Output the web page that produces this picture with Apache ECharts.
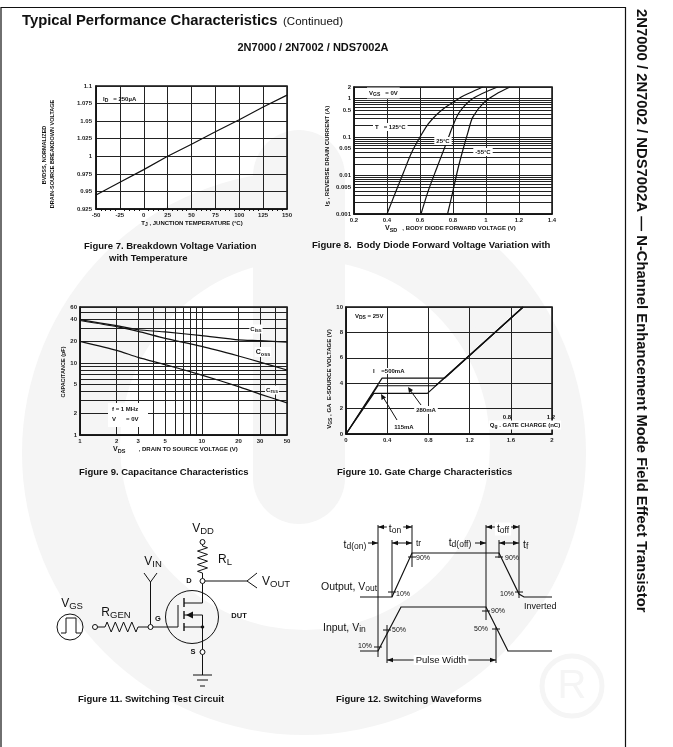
<!DOCTYPE html>
<html>
<head>
<meta charset="utf-8">
<title>Typical Performance Characteristics</title>
<script src="https://cdn.jsdelivr.net/npm/echarts@6/dist/echarts.min.js"></script>
<style>
  html, body { margin: 0; padding: 0; background: #fff; }
  #main { width: 673px; height: 747px; }
</style>
</head>
<body>
<div id="main"></div>
<script>
// figure 7 - breakdown voltage vs temperature
const fig7Temp = [-50, -25, 0, 25, 50, 75, 100, 125, 150]
const fig7Bvdss = [0.945, 0.963, 0.981, 1.0, 1.017, 1.035, 1.052, 1.07, 1.087]

// figure 8 - body diode forward voltage (volts, amps)
const fig8T125 = [[0.4, 0.001], [0.45, 0.0035], [0.5, 0.012], [0.55, 0.04], [0.6, 0.1], [0.65, 0.22], [0.7, 0.38], [0.75, 0.58], [0.8, 0.8], [0.85, 1.1], [0.9, 1.4], [0.98, 2]]
const fig8T25 = [[0.606, 0.001], [0.65, 0.004], [0.7, 0.015], [0.76, 0.07], [0.8, 0.2], [0.84, 0.45], [0.92, 1], [1.07, 2]]
const fig8Tm55 = [[0.767, 0.001], [0.8, 0.004], [0.83, 0.015], [0.86, 0.046], [0.89, 0.13], [0.92, 0.33], [0.99, 0.81], [1.06, 1.3], [1.145, 2]]
const fig8Grid = [0.001, 0.002, 0.003, 0.004, 0.005, 0.006, 0.007, 0.008, 0.009, 0.01, 0.02, 0.03, 0.04, 0.05, 0.06, 0.07, 0.08, 0.09, 0.1, 0.2, 0.3, 0.4, 0.5, 0.6, 0.7, 0.8, 0.9, 1, 2]
const fig8Labels = [0.001, 0.005, 0.01, 0.05, 0.1, 0.5, 1, 2]

// figure 9 - capacitance vs drain voltage
const fig9Vds = [1, 2, 3, 5, 10, 20, 30, 50]
const fig9Ciss = [40, 33, 29, 27, 24, 21, 20.5, 19.5]
const fig9Coss = [39, 32, 27.5, 22, 17, 12.5, 10.3, 8]
const fig9Crss = [20, 15, 12, 9.5, 6.8, 4.7, 3.7, 2.8]
const fig9GridX = [1, 2, 3, 4, 5, 6, 7, 8, 9, 10, 20, 30, 40, 50]
const fig9LabelsX = [1, 2, 3, 5, 10, 20, 30, 50]
const fig9GridY = [1, 2, 3, 4, 5, 6, 7, 8, 9, 10, 20, 30, 40, 50, 60]
const fig9LabelsY = [1, 2, 5, 10, 20, 40, 60]

// figure 10 - gate charge
const fig10I500 = [[0, 0], [0.35, 4.4], [0.96, 4.4], [1.72, 10]]
const fig10I280 = [[0, 0], [0.31, 3.8], [0.87, 3.8], [1.72, 10]]
const fig10I115 = [[0, 0], [0.27, 3.2], [0.79, 3.2], [1.72, 10]]

const FONT = '"Liberation Sans", Arial, sans-serif'
const INK = '#111'
const GRIDLINE = '#222'
const WATERMARK = '#f5f5f5'

const subRich = {
  b: { fontFamily: FONT, fontWeight: 'bold', fontSize: 6, fill: INK },
  s: { fontFamily: FONT, fontWeight: 'bold', fontSize: 5, fill: INK, padding: [4, 0, 0, 0] },
  B: { fontFamily: FONT, fontWeight: 'bold', fontSize: 7, fill: INK },
  S: { fontFamily: FONT, fontWeight: 'bold', fontSize: 5.5, fill: INK, padding: [4, 0, 0, 0] },
  n: { fontFamily: FONT, fontSize: 12, fill: INK },
  m: { fontFamily: FONT, fontSize: 9.5, fill: INK, padding: [5, 0, 0, 0] },
  r: { fontFamily: FONT, fontSize: 10.5, fill: INK },
  q: { fontFamily: FONT, fontSize: 8.5, fill: INK, padding: [4, 0, 0, 0] }
}

function axisStyle(extra) {
  return Object.assign({
    axisLine: { show: true, onZero: false, lineStyle: { color: INK, width: 1.5 } },
    axisTick: { show: false },
    axisLabel: { fontFamily: FONT, fontSize: 6, fontWeight: 'bold', color: '#222', margin: 3 },
    splitLine: { show: true, lineStyle: { color: GRIDLINE, width: 1 } }
  }, extra)
}

function customLogAxis(gridIndex, min, max, gridVals, labelVals) {
  const a = axisStyle({ type: 'log', gridIndex, min, max, logBase: 10 })
  a.axisTick = { show: false, customValues: gridVals }
  a.axisLabel = Object.assign({}, a.axisLabel, { customValues: labelVals, hideOverlap: false, formatter: v => String(v) })
  return a
}

const grids = [
  { left: 96, top: 86, width: 191, height: 123 },
  { left: 354, top: 87, width: 198, height: 127 },
  { left: 80, top: 307, width: 207, height: 128 },
  { left: 346, top: 307, width: 206, height: 127 }
].map(g => Object.assign({ show: true, borderColor: INK, borderWidth: 1.5 }, g))

const xAxes = [
  axisStyle({ type: 'value', gridIndex: 0, min: -50, max: 150, interval: 25,
    minorTick: { show: true, splitNumber: 5, length: 2, lineStyle: { color: INK } } }),
  axisStyle({ type: 'value', gridIndex: 1, min: 0.2, max: 1.4, interval: 0.2 }),
  customLogAxis(2, 1, 50, fig9GridX, fig9LabelsX),
  axisStyle({ type: 'value', gridIndex: 3, min: 0, max: 2, interval: 0.4 })
]

const yAxes = [
  axisStyle({ type: 'value', gridIndex: 0, min: 0.925, max: 1.1, interval: 0.025,
    axisLabel: { fontFamily: FONT, fontSize: 6, fontWeight: 'bold', color: '#222', margin: 4, formatter: v => String(+v.toFixed(3)) } }),
  customLogAxis(1, 0.001, 2, fig8Grid, fig8Labels),
  customLogAxis(2, 1, 60, fig9GridY, fig9LabelsY),
  axisStyle({ type: 'value', gridIndex: 3, min: 0, max: 10, interval: 2 })
]

function curve(name, idx, data, width) {
  return { name, type: 'line', xAxisIndex: idx, yAxisIndex: idx, data, symbol: 'none', z: 5,
    lineStyle: { color: INK, width: width || 1.2 } }
}
function zipXY(xs, ys) { return xs.map((x, i) => [x, ys[i]]) }

const series = [
  curve('BVDSS', 0, zipXY(fig7Temp, fig7Bvdss)),
  Object.assign(curve('125C', 1, fig8T125), { smooth: 0.3 }),
  Object.assign(curve('25C', 1, fig8T25), { smooth: 0.3 }),
  Object.assign(curve('-55C', 1, fig8Tm55), { smooth: 0.3 }),
  Object.assign(curve('Ciss', 2, zipXY(fig9Vds, fig9Ciss)), { smooth: 0.2 }),
  Object.assign(curve('Coss', 2, zipXY(fig9Vds, fig9Coss)), { smooth: 0.2 }),
  Object.assign(curve('Crss', 2, zipXY(fig9Vds, fig9Crss)), { smooth: 0.2 }),
  curve('500mA', 3, fig10I500),
  curve('280mA', 3, fig10I280),
  curve('115mA', 3, fig10I115)
]

// ---- page furniture, annotations and the two schematic figures
const g = []

function txt(x, y, text, o) {
  o = o || {}
  g.push({
    type: 'text', x, y, z: o.z || 100, rotation: o.rotation || 0, silent: true,
    style: {
      text, rich: subRich, fill: o.fill || INK,
      font: (o.weight || 'normal') + ' ' + (o.size || 8) + 'px ' + FONT,
      align: o.align || 'left', verticalAlign: 'middle',
      backgroundColor: o.bg, padding: o.pad
    }
  })
}
function poly(points, o) {
  o = o || {}
  g.push({ type: 'polyline', z: o.z || 90, silent: true, shape: { points },
    style: { stroke: o.stroke || INK, fill: null, lineWidth: o.width || 1 } })
}
function dot(cx, cy, r, o) {
  o = o || {}
  g.push({ type: 'circle', z: o.z || 91, silent: true, shape: { cx, cy, r },
    style: { stroke: o.stroke === undefined ? INK : o.stroke, fill: o.fill || '#fff', lineWidth: o.width || 1 } })
}
function tri(points) {
  g.push({ type: 'polygon', z: 92, silent: true, shape: { points }, style: { fill: INK } })
}
function arrowR(x, y) { tri([[x, y], [x - 6, y - 2.2], [x - 6, y + 2.2]]) }
function arrowL(x, y) { tri([[x, y], [x + 6, y - 2.2], [x + 6, y + 2.2]]) }
function span(x1, x2, y) { poly([[x1, y], [x2, y]]); arrowL(x1, y); arrowR(x2, y) }
function zigV(x, y1, y2, n, amp) {
  const pts = [[x, y1]]
  const step = (y2 - y1) / (n * 2)
  for (let i = 0; i < n * 2; i++) pts.push([x + (i % 2 ? -amp : amp), y1 + step * (i + 0.5)])
  pts.push([x, y2])
  poly(pts)
}
function zigH(x1, x2, y, n, amp) {
  const pts = [[x1, y]]
  const step = (x2 - x1) / (n * 2)
  for (let i = 0; i < n * 2; i++) pts.push([x1 + step * (i + 0.5), y + (i % 2 ? amp : -amp)])
  pts.push([x2, y])
  poly(pts)
}

// watermark logo behind everything
function wm(type, shape, fill) {
  g.push({ type, z: -5, silent: true, shape, style: { fill } })
}
wm('circle', { cx: 304, cy: 453, r: 282 }, WATERMARK)
wm('rect', { x: 345, y: 160, width: 260, height: 90 }, '#fff')
wm('circle', { cx: 462, cy: 290, r: 40 }, WATERMARK)
wm('circle', { cx: 305, cy: 445, r: 185 }, '#fff')
wm('rect', { x: 253, y: 130, width: 92, height: 394, r: [46, 46, 46, 46] }, WATERMARK)
g.push({ type: 'circle', z: -5, silent: true, shape: { cx: 572, cy: 686, r: 30 }, style: { stroke: WATERMARK, lineWidth: 5, fill: null } })
txt(572, 687, 'R', { size: 40, fill: WATERMARK, align: 'center', z: -4 })

// page frame
poly([[1, 747], [1, 7.5], [625.5, 7.5], [625.5, 747]], { width: 1.2 })

// headings
txt(22, 21, 'Typical Performance Characteristics', { size: 14.8, weight: 'bold' })
txt(283, 21.5, '(Continued)', { size: 11.5 })
txt(313, 48, '2N7000 / 2N7002 / NDS7002A', { size: 11, weight: 'bold', align: 'center' })
txt(641, 9, '2N7000 / 2N7002 / NDS7002A \u2014 N-Channel Enhancement Mode Field Effect Transistor',
  { size: 14.8, weight: 'bold', rotation: -Math.PI / 2 })

// captions
txt(84, 246, 'Figure 7. Breakdown Voltage Variation', { size: 9.5, weight: 'bold' })
txt(109, 258, 'with Temperature', { size: 9.5, weight: 'bold' })
txt(312, 245, 'Figure 8.  Body Diode Forward Voltage Variation with', { size: 9.5, weight: 'bold' })
txt(79, 472, 'Figure 9. Capacitance Characteristics', { size: 9.5, weight: 'bold' })
txt(337, 472, 'Figure 10. Gate Charge Characteristics', { size: 9.5, weight: 'bold' })
txt(78, 699, 'Figure 11. Switching Test Circuit', { size: 9.5, weight: 'bold' })
txt(336, 699, 'Figure 12. Switching Waveforms', { size: 9.5, weight: 'bold' })

// axis titles
const YTITLE = -Math.PI / -2
txt(44, 155, 'BVDSS, NORMALIZED', { size: 5.5, weight: 'bold', align: 'center', rotation: YTITLE })
txt(52, 154, 'DRAIN-SOURCE BREAKDOWN VOLTAGE', { size: 5.5, weight: 'bold', align: 'center', rotation: YTITLE })
txt(192, 223, '{b|T}{s|J}{b| , JUNCTION TEMPERATURE (\u00b0C)}', { align: 'center' })
txt(327, 156, '{b|I}{s|S}{b| , REVERSE DRAIN CURRENT (A)}', { align: 'center', rotation: YTITLE })
txt(385, 228, '{B|V}{S|SD}{b|   , BODY DIODE FORWARD VOLTAGE (V)}')
txt(63, 372, 'CAPACITANCE (pF)', { size: 5.5, weight: 'bold', align: 'center', rotation: YTITLE })
txt(113, 449, '{B|V}{S|DS}{b|        , DRAIN TO SOURCE VOLTAGE (V)}')
txt(329, 379, '{b|V}{s|GS}{b| , GA  E-SOURCE VOLTAGE (V)}', { align: 'center', rotation: YTITLE })

// in-plot notes
txt(103, 99, '{b|I}{s|D}{b|   = 250\u00b5A}')
txt(367, 93, '{b|V}{s|GS}{b|   = 0V}', { bg: '#fff', pad: [1, 2, 1, 2] })
txt(373, 127, '{b|T   = 125\u00b0C}', { bg: '#fff', pad: [1, 2, 1, 2] })
txt(443, 141, '{b|25\u00b0C}', { align: 'center', bg: '#fff', pad: [1, 2, 1, 2] })
txt(483, 152, '{b|-55\u00b0C}', { align: 'center', bg: '#fff', pad: [1, 2, 1, 2] })
txt(256, 329, '{b|C}{s|iss}', { align: 'center', bg: '#fff', pad: [0, 1, 0, 1] })
txt(263, 352, '{B|C}{S|oss}', { align: 'center', bg: '#fff', pad: [0, 1, 0, 1] })
txt(272, 390, '{b|C}{s|rss}', { align: 'center', bg: '#fff', pad: [0, 1, 0, 1] })
g.push({ type: 'rect', z: 80, silent: true, shape: { x: 108, y: 403, width: 40, height: 24 }, style: { fill: '#fff' } })
txt(112, 409, '{b|f = 1 MHz}')
txt(112, 419, '{b|V      = 0V}')
txt(354, 316, '{b|V}{s|DS}{b| = 25V}', { bg: '#fff', pad: [2, 1, 2, 1] })
txt(372, 371, '{b|I    =500mA}', { bg: '#fff', pad: [0, 1, 0, 1] })
txt(426, 410, '{b|280mA}', { align: 'center', bg: '#fff', pad: [1, 2, 1, 2] })
txt(404, 427, '{b|115mA}', { align: 'center', bg: '#fff', pad: [1, 2, 1, 2] })
txt(525, 425, '{b|Q}{s|g}{b| . GATE CHARGE (nC)}', { align: 'center', bg: '#fff', pad: [0, 1, 0, 1] })
txt(507, 417, '{b|0.8}', { align: 'center' })
txt(551, 417, '{b|1.2}', { align: 'center' })
poly([[421, 405], [410, 390]], { z: 95 })
tri([[408, 387], [409, 393], [413, 390]])
poly([[397, 420], [383, 397]], { z: 95 })
tri([[381, 394], [381.5, 400], [386, 397.5]])

// figure 11 - test circuit
txt(203, 529, '{n|V}{m|DD}', { align: 'center' })
dot(202.5, 542, 2.5)
poly([[202.5, 544.5], [202.5, 546]])
zigV(202.5, 546, 573, 4, 5)
poly([[202.5, 573], [202.5, 578.5]])
dot(202.5, 581, 2.5)
txt(218, 560, '{n|R}{m|L}')
poly([[205, 581], [247, 581]])
poly([[257, 573], [247, 581], [257, 588]])
txt(262, 582, '{n|V}{m|OUT}')
txt(189, 581, 'D', { size: 7.5, weight: 'bold', align: 'center' })
poly([[144, 573], [150.5, 582], [157, 573]])
poly([[150.5, 582], [150.5, 624.5]])
dot(150.5, 627, 2.5)
txt(153, 562, '{n|V}{m|IN}', { align: 'center' })
txt(158, 619, 'G', { size: 7.5, weight: 'bold', align: 'center' })
poly([[153, 627], [178, 627], [178, 605]])
dot(192, 617, 26.5, { fill: 'transparent' })
poly([[184, 598], [184, 607]], { width: 1.4 })
poly([[184, 611], [184, 619]], { width: 1.4 })
poly([[184, 623], [184, 631]], { width: 1.4 })
poly([[184, 603], [202.5, 603], [202.5, 583.5]])
poly([[184, 615], [202.5, 615], [202.5, 649.5]])
poly([[184, 627], [202.5, 627]])
dot(202.5, 627, 1.3, { fill: INK })
tri([[186, 615], [193, 611.5], [193, 618.5]])
dot(202.5, 652, 2.5)
txt(193, 652, 'S', { size: 7.5, weight: 'bold', align: 'center' })
txt(239, 616, 'DUT', { size: 7.5, weight: 'bold', align: 'center' })
poly([[202.5, 654.5], [202.5, 675]])
poly([[193, 675], [212, 675]])
poly([[197, 680], [208, 680]])
poly([[200, 686], [205, 686]])
txt(72, 604, '{n|V}{m|GS}', { align: 'center' })
dot(70, 627, 13, { fill: 'transparent' })
poly([[61, 633], [66, 633], [66, 618], [76, 618], [76, 633], [81, 633]])
dot(95, 627, 2.5)
poly([[97.5, 627], [105, 627]])
zigH(105, 138, 627, 4, 5)
poly([[138, 627], [148, 627]])
txt(116, 613, '{n|R}{m|GEN}', { align: 'center' })

// figure 12 - switching waveforms
const vLines = [[378, 525, 657], [392, 540, 597], [412, 525, 567], [387, 625, 663], [486, 525, 620], [499, 540, 558], [519, 525, 598], [496, 627, 663]]
vLines.forEach(v => poly([[v[0], v[1]], [v[0], v[2]]]))
span(378, 412, 527)
span(486, 519, 527)
txt(395, 529, '{r|t}{q|on}', { align: 'center', bg: '#fff', pad: [0, 2, 0, 2] })
txt(503, 529, '{r|t}{q|off}', { align: 'center', bg: '#fff', pad: [0, 2, 0, 2] })
txt(355, 545, '{r|t}{q|d(on)}', { align: 'center' })
poly([[368, 543], [378, 543]])
arrowR(378, 543)
span(392, 412, 543)
txt(416, 544, 'tr', { size: 8.5 })
txt(460, 543, '{r|t}{q|d(off)}', { align: 'center' })
poly([[475, 543], [486, 543]])
arrowR(486, 543)
span(499, 519, 543)
txt(523, 545, '{r|t}{q|f}')
poly([[360, 597], [392, 597], [412, 553], [499, 553], [519, 594], [524, 597], [552, 597]], { width: 1.2 })
poly([[360, 651], [378, 651], [401, 607], [486, 607], [508, 651], [552, 651]], { width: 1.2 })
const crossTicks = [[392, 592], [412, 557], [499, 557], [519, 592], [378, 647], [387, 630], [486, 611], [496, 629]]
crossTicks.forEach(t => poly([[t[0] - 4, t[1]], [t[0] + 4, t[1]]]))
const pctLabels = [[396, 594, '10%'], [416, 558, '90%'], [505, 558, '90%'], [500, 594, '10%'], [358, 646, '10%'], [392, 630, '50%'], [491, 611, '90%'], [474, 629, '50%']]
pctLabels.forEach(p => txt(p[0], p[1], p[2], { size: 7 }))
txt(321, 587, '{r|Output, V}{q|out}')
txt(323, 628, '{r|Input, V}{q|in}')
txt(524, 607, 'Inverted', { size: 9 })
span(387, 496, 660)
txt(441, 660, 'Pulse Width', { size: 9.5, align: 'center', bg: '#fff', pad: [0, 2, 0, 2] })

const chart = echarts.init(document.getElementById('main'), null, { renderer: 'canvas' })
chart.setOption({
  animation: false,
  backgroundColor: '#fff',
  textStyle: { fontFamily: FONT },
  grid: grids,
  xAxis: xAxes,
  yAxis: yAxes,
  series,
  graphic: { elements: g }
})
</script>
</body>
</html>
